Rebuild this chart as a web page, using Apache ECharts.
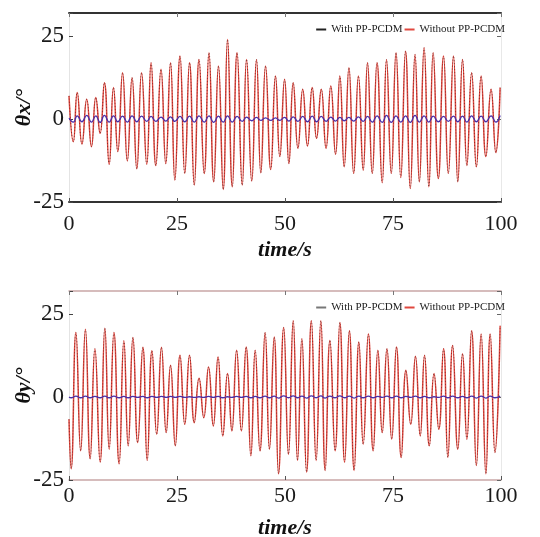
<!DOCTYPE html>
<html>
<head>
<meta charset="utf-8">
<script src="https://cdn.jsdelivr.net/npm/echarts@6/dist/echarts.min.js"></script>
<style>
  html, body { margin: 0; padding: 0; background: #fff; }
  #main { width: 540px; height: 537px; }
</style>
</head>
<body>
<div id="main"></div>
<script>
// x ticks / y tick labels
const xTicks = [0, 25, 50, 75, 100]
const yTicks = [-25, 0, 25]

// theta x: times (s) of each turning point
const topTime = [0.0, 1.0, 1.9, 3.0, 4.1, 5.2, 6.2, 7.2, 8.2, 9.3, 10.3, 11.3, 12.4, 13.5, 14.6, 15.7, 16.8, 18.0, 19.0, 20.1,
  21.3, 22.4, 23.5, 24.5, 25.7, 26.8, 27.9, 29.0, 30.1, 31.3, 32.4, 33.5, 34.6, 35.7, 36.7, 37.8, 38.9, 40.1, 41.1, 42.3,
  43.4, 44.4, 45.5, 46.7, 47.8, 48.8, 49.9, 50.9, 51.9, 53.0, 54.1, 55.2, 56.3, 57.3, 58.4, 59.5, 60.6, 61.7, 62.7, 63.7,
  64.8, 65.9, 67.0, 68.1, 69.1, 70.2, 71.3, 72.5, 73.5, 74.6, 75.7, 76.8, 77.9, 79.0, 80.1, 81.1, 82.2, 83.3, 84.3, 85.5,
  86.7, 87.8, 89.0, 90.0, 91.1, 92.1, 93.2, 94.3, 95.4, 96.5, 97.7, 98.8, 99.8]
const topWithout = [7, -6.8, 8, -7.5, 6, -8.3, 6.5, -4.3, 11, -13.6, 9.5, -9.8, 14, -12.6, 12.5, -15, 14, -13.6, 17, -14,
  15, -13.4, 17, -18.4, 19, -16.4, 17, -19.9, 18, -16.4, 20, -18.9, 16, -21.2, 24, -20.4, 20, -19.9, 18, -18.7,
  18, -16.2, 16, -15.2, 13, -11.3, 12, -13.4, 11, -8.8, 9, -8.1, 9.5, -5.8, 9, -8.8, 10, -10.6, 13, -14.4,
  15.5, -16.4, 13, -15.4, 17, -16.4, 17, -19.2, 18, -16.4, 20, -17.6, 20.5, -20.9, 19.5, -18.9, 21.5, -20.4, 20, -17.9,
  19, -16.4, 19, -18.9, 18, -14, 14, -14.4, 13, -11.3, 9, -10.1, 9.5]
const topWith = [0.3, -0.9, 1.0, -0.8, 1.1, -0.9, 1.0, -1.0, 1.1, -0.9, 1.0, -0.8, 0.9, -0.9, 1.0, -0.8, 0.9, -0.7, 0.8, -0.7,
  0.6, -0.6, 0.7, -0.7, 0.8, -0.8, 0.9, -0.9, 1.0, -0.9, 1.0, -1.0, 0.9, -0.9, 1.0, -0.9, 0.8, -0.7, 0.6, -0.5,
  0.5, -0.4, 0.4, -0.4, 0.4, -0.4, 0.5, -0.6, 0.7, -0.7, 0.8, -0.8, 0.9, -0.8, 0.8, -0.7, 0.6, -0.6, 0.5, -0.5,
  0.5, -0.6, 0.7, -0.7, 0.8, -0.9, 1.0, -1.0, 1.1, -1.0, 1.0, -0.9, 1.0, -1.0, 1.1, -0.9, 1.0, -0.9,
  0.9, -0.8, 0.8, -0.7, 0.9, -0.8, 0.9, -0.9, 1.0, -0.8, 0.9, -0.8, 1.0, -0.9, 1.1, 0.4]

// theta y
const botTime = [0.0, 0.5, 1.6, 2.7, 3.8, 4.9, 6.0, 7.2, 8.3, 9.3, 10.4, 11.6, 12.7, 13.7, 14.8, 15.9, 17.1, 18.1, 19.2, 20.3,
  21.4, 22.5, 23.5, 24.6, 25.7, 26.8, 27.9, 29.0, 30.1, 31.2, 32.3, 33.4, 34.5, 35.6, 36.7, 37.7, 38.8, 39.9, 41.0, 42.1,
  43.1, 44.2, 45.4, 46.4, 47.5, 48.5, 49.7, 50.8, 51.9, 52.9, 53.9, 55.0, 56.1, 57.2, 58.3, 59.3, 60.4, 61.6, 62.7, 63.8,
  64.9, 66.0, 67.1, 68.1, 69.3, 70.4, 71.5, 72.5, 73.6, 74.7, 75.8, 76.9, 78.0, 79.1, 80.2, 81.3, 82.3, 83.4, 84.5, 85.6,
  86.7, 87.7, 88.8, 90.0, 91.1, 92.1, 93.2, 94.3, 95.4, 96.5, 97.5, 98.6, 99.8]
const botWithout = [-6.7, -21.6, 19.5, -16.2, 20.5, -18.6, 14.6, -19.6, 20.8, -15.7, 19.5, -20.1, 17, -14.7, 18, -13.7, 15, -19.1, 14, -11.2,
  15, -10.7, 9.6, -14.7, 12.6, -8.2, 12.6, -7.7, 5.7, -6.2, 9.1, -8.7, 12.1, -11.7, 7.1, -10.2, 14.1, -10.2, 15.1, -17.7,
  14.1, -16.2, 19.5, -15.7, 18.1, -23.1, 21, -17.2, 23, -19.1, 17.6, -22.6, 23, -19.1, 23, -22.1, 17.1, -16.2, 22.5, -19.6,
  20, -22.1, 16.6, -14.2, 19, -16.2, 14.1, -10.7, 14.6, -12.7, 15.1, -18.2, 8.1, -8.2, 12.3, -11.7, 12.6, -14.7, 7.1, -9.7,
  14.6, -18.2, 15.6, -15.7, 13.1, -12.7, 20, -20.6, 19, -23.1, 19, -16.7, 21.5]
const botWith = [0, -0.2, 0.3, -0.2, 0.3, -0.2, 0.2, -0.2, 0.3, -0.2, 0.3, -0.2, 0.2, -0.2, 0.2, -0.1, 0.2, -0.2, 0.2, -0.1,
  0.2, -0.1, 0.2, -0.1, 0.2, -0.1, 0.1, -0.1, 0.1, -0.1, 0.2, -0.1, 0.2, -0.2, 0.1, -0.1, 0.2, -0.1, 0.2, -0.2,
  0.2, -0.2, 0.3, -0.2, 0.3, -0.3, 0.4, -0.2, 0.4, -0.2, 0.3, -0.3, 0.4, -0.2, 0.4, -0.3, 0.3, -0.2, 0.4, -0.2,
  0.3, -0.3, 0.3, -0.2, 0.3, -0.2, 0.2, -0.1, 0.3, -0.2, 0.3, -0.2, 0.2, -0.1, 0.3, -0.2, 0.2, -0.2, 0.1, -0.1,
  0.3, -0.2, 0.3, -0.2, 0.2, -0.2, 0.3, -0.3, 0.3, -0.3, 0.3, -0.2, 0.3]

const pair = (t, v) => t.map((x, i) => [x, v[i]])

const FONT = '"Liberation Serif", "Times New Roman", serif'
const RED = '#e0483f'
const BLUE = '#4a2fa8'

function panel(i, top, frame, labelMargin, yName) {
  const xs = [
    {
      gridIndex: i, type: 'value', min: 0, max: 100, interval: 25, position: 'bottom',
      axisLine: { onZero: false, lineStyle: { color: frame.color, width: frame.width } },
      axisTick: { inside: true, length: 4, lineStyle: { color: '#555' } },
      axisLabel: { fontFamily: FONT, fontSize: 22, color: '#1a1a1a', margin: labelMargin },
      splitLine: { show: false },
      name: 'time/s', nameLocation: 'middle', nameGap: 37, nameMoveOverlap: false,
      nameTextStyle: { fontFamily: FONT, fontSize: 22, fontWeight: 'bold', fontStyle: 'italic', color: '#111' },
    },
    {
      gridIndex: i, type: 'value', min: 0, max: 100, interval: 25, position: 'top',
      axisLine: { onZero: false, lineStyle: { color: frame.color, width: frame.width } },
      axisTick: { inside: true, length: 4, lineStyle: { color: '#777' } },
      axisLabel: { show: false },
      splitLine: { show: false },
    },
  ]
  const ys = [
    {
      gridIndex: i, type: 'value', min: -25, max: 32, interval: 25, position: 'left',
      axisLine: { show: true, onZero: false, lineStyle: { color: '#e4e4e4', width: 1 } },
      axisTick: { inside: true, length: 4, lineStyle: { color: '#444' } },
      axisLabel: {
        fontFamily: FONT, fontSize: 23, color: '#1a1a1a', margin: 5,
        formatter: v => (yTicks.includes(v) ? String(v) : ''),
      },
      splitLine: { show: false },
      name: yName, nameLocation: 'middle', nameGap: 34, nameMoveOverlap: false,
      nameTextStyle: { fontFamily: FONT, fontSize: 22, fontWeight: 'bold', fontStyle: 'italic', color: '#111' },
    },
    {
      gridIndex: i, type: 'value', min: -25, max: 32, interval: 25, position: 'right',
      axisLine: { show: true, onZero: false, lineStyle: { color: '#e8e8e8', width: 1 } },
      axisTick: { inside: true, length: 4, lineStyle: { color: '#666' } },
      axisLabel: { show: false },
      splitLine: { show: false },
    },
  ]
  return { grid: { left: 69, right: 39, top, height: 189, outerBoundsMode: 'none', containLabel: false }, xs, ys }
}

const p1 = panel(0, 13, { color: '#333', width: 2 }, 11, 'θx/°')
const p2 = panel(1, 291, { color: '#c9a7a7', width: 1.5 }, 5, 'θy/°')

function lines(ax, ay, without, withPP) {
  return [
    {
      name: 'Without PP-PCDM', type: 'line', xAxisIndex: ax, yAxisIndex: ay,
      data: without, showSymbol: false, smooth: 0.5, silent: true,
      lineStyle: { color: RED, width: 1.5 }, itemStyle: { color: RED },
    },
    {
      name: 'overlay', type: 'line', xAxisIndex: ax, yAxisIndex: ay,
      data: without, showSymbol: false, smooth: 0.5, silent: true,
      lineStyle: { color: 'rgba(70,20,20,0.55)', width: 1, type: [1, 2] },
    },
    {
      name: 'With PP-PCDM', type: 'line', xAxisIndex: ax, yAxisIndex: ay,
      data: withPP, showSymbol: false, smooth: 0.5, silent: true,
      lineStyle: { color: BLUE, width: 1.3 }, itemStyle: { color: '#222' },
    },
  ]
}

function legend(top, withColor) {
  return {
    right: 30, top, itemWidth: 10, itemHeight: 2, itemGap: 2, icon: 'rect',
    textStyle: { fontFamily: FONT, fontSize: 11, color: '#222' },
    data: [
      { name: 'With PP-PCDM', itemStyle: { color: withColor } },
      { name: 'Without PP-PCDM', itemStyle: { color: RED } },
    ],
  }
}

const chart = echarts.init(document.getElementById('main'), null, { renderer: 'canvas' })
chart.setOption({
  animation: false,
  backgroundColor: '#fff',
  grid: [p1.grid, p2.grid],
  xAxis: [...p1.xs, ...p2.xs],
  yAxis: [...p1.ys, ...p2.ys],
  legend: [legend(19, '#222'), legend(297, '#777')],
  series: [
    ...lines(0, 0, pair(topTime, topWithout), pair(topTime, topWith)),
    ...lines(2, 2, pair(botTime, botWithout), pair(botTime, botWith)),
  ],
})
</script>
</body>
</html>
